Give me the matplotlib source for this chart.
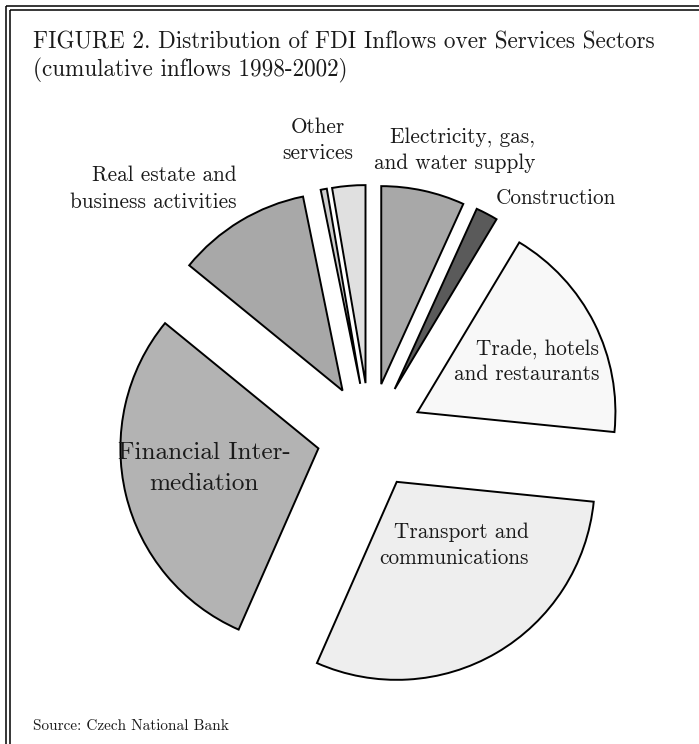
import matplotlib
matplotlib.use("Agg")
import matplotlib.pyplot as plt

# cumulative FDI inflows 1998-2002, share of services total (%)
sectors = ["Electricity, gas, and water supply", "Construction", "Trade, hotels and restaurants",
           "Transport and communications", "Financial Intermediation",
           "Real estate and business activities", "Unlabelled", "Other services"]
shares = [6.8, 1.8, 18.0, 30.0, 29.3, 10.9, 0.5, 2.7]
fills = ["#a8a8a8", "#5a5a5a", "#f8f8f8", "#eeeeee", "#b3b3b3", "#a8a8a8", "#cccccc", "#e0e0e0"]

W, H = 699, 744
FONT = "cmr10"
R = 198

fig = plt.figure(figsize=(W / 100, H / 100), dpi=100)
ax = fig.add_axes([0, 0, 1, 1])

# explode offsets are in data units here (1 unit = 1 px)
ax.pie(shares, colors=fills, startangle=90, counterclock=False,
       center=(370, H - 436), radius=R, explode=[0.268 * R] * len(shares),
       wedgeprops=dict(edgecolor="black", linewidth=1.4))
ax.set_xlim(0, W)
ax.set_ylim(0, H)
ax.set_aspect("equal")
ax.axis("off")

# double frame on top and left
for off in (6, 10):
    ax.plot([off, off], [0, H - off], color="black", lw=1.1, solid_capstyle="butt")
    ax.plot([off, W], [H - off, H - off], color="black", lw=1.1, solid_capstyle="butt")

def txt(x, y, s, size=15.3, ha="center", ls=1.44):
    ax.text(x, H - y, s, fontsize=size, ha=ha, va="center", family=FONT,
            color="#1a1a1a", linespacing=ls)

txt(33, 42, "FIGURE 2. Distribution of FDI Inflows over Services Sectors", size=16.7, ha="left")
txt(33, 70, "(cumulative inflows 1998-2002)", size=16.7, ha="left")

txt(318, 140, "Other\nservices")
txt(535, 150, "Electricity, gas,\nand water supply", ha="right")
txt(616, 198, "Construction", ha="right")
txt(599, 362, "Trade, hotels\nand restaurants", ha="right", ls=1.36)
txt(529, 545, "Transport and\ncommunications", ha="right")
txt(204, 468, "Financial Inter-\nmediation", size=18.2, ls=1.52)
txt(237, 189, "Real estate and\nbusiness activities", ha="right", ls=1.48)

txt(33, 726, "Source: Czech National Bank", size=11, ha="left")

fig.savefig("out.png", dpi=100)
